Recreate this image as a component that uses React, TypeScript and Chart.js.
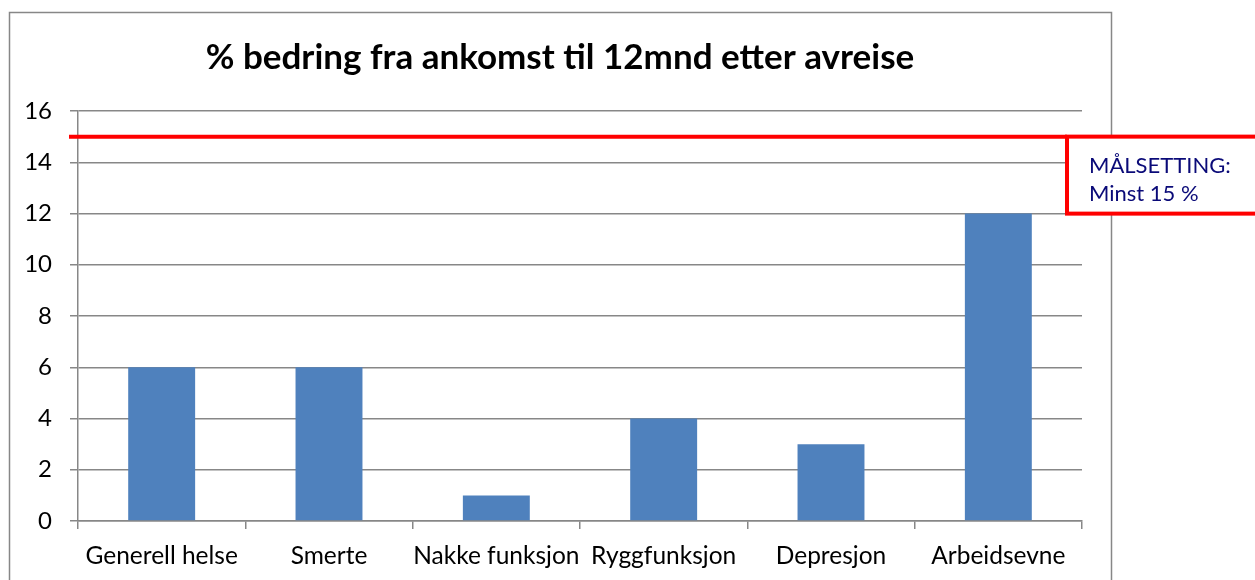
import React, { useEffect, useRef } from "react";
import { Chart, registerables } from "chart.js";

Chart.register(...registerables);

const title = "% bedring fra ankomst til 12mnd etter avreise";
const categories = ["Generell helse", "Smerte", "Nakke funksjon", "Ryggfunksjon", "Depresjon", "Arbeidsevne"];
const values = [6, 6, 1, 4, 3, 12];
const targetValue = 15;
const targetLines = ["MÅLSETTING:", "Minst 15 %"];

const GRID = "#878787";

export default function App() {
  const ref = useRef<HTMLCanvasElement | null>(null);

  useEffect(() => {
    if (!ref.current) return;
    const decor = {
      id: "decor",
      beforeDraw(chart: any) {
        const ctx = chart.ctx;
        ctx.save();
        ctx.fillStyle = "#ffffff";
        ctx.fillRect(0, 0, chart.width, chart.height);
        ctx.strokeStyle = GRID;
        ctx.lineWidth = 1.5;
        ctx.strokeRect(9.5, 12.5, 1102, 600);
        ctx.fillStyle = "#000000";
        ctx.font = "bold 35px Lato";
        ctx.textAlign = "center";
        ctx.textBaseline = "alphabetic";
        ctx.fillText(title, 560, 69);
        ctx.restore();
      },
      afterDraw(chart: any) {
        const ctx = chart.ctx;
        const y = chart.scales.y.getPixelForValue(targetValue);
        ctx.save();
        ctx.strokeStyle = "#ff0000";
        ctx.lineWidth = 4;
        ctx.beginPath();
        ctx.moveTo(69, y);
        ctx.lineTo(1067, y);
        ctx.stroke();
        const bx = 1067, by = y, bw = 200, bh = 77;
        ctx.fillStyle = "#ffffff";
        ctx.fillRect(bx, by, bw, bh);
        ctx.strokeRect(bx, by, bw, bh);
        ctx.fillStyle = "#0a0a78";
        ctx.font = "22px Lato";
        ctx.textAlign = "left";
        ctx.textBaseline = "alphabetic";
        ctx.fillText(targetLines[0], 1089, by + 36);
        ctx.fillText(targetLines[1], 1089, by + 64);
        ctx.restore();
      },
    };
    const chart = new Chart(ref.current, {
      type: "bar",
      data: {
        labels: categories,
        datasets: [
          {
            data: values,
            backgroundColor: "#4F81BD",
            borderWidth: 0,
            barPercentage: 0.8,
            categoryPercentage: 0.5,
          },
        ],
      },
      options: {
        animation: false,
        responsive: false,
        maintainAspectRatio: false,
        layout: { padding: { top: 111, right: 173, bottom: 0, left: 0 } },
        plugins: { legend: { display: false }, title: { display: false }, tooltip: { enabled: false } },
        scales: {
          x: {
            offset: true,
            grid: { display: true, drawOnChartArea: false, drawTicks: true, tickLength: 8, color: GRID, lineWidth: 1.5, offset: true },
            border: { display: true, color: GRID, width: 1.5 },
            ticks: { color: "#000", font: { family: "Lato", size: 24.5 }, padding: 12, maxRotation: 0, autoSkip: false },
            afterFit: (s: any) => { s.height = 59; },
          },
          y: {
            min: 0,
            max: 16,
            grid: { color: GRID, lineWidth: 1.5, tickLength: 8, drawTicks: true },
            border: { display: true, color: GRID, width: 1.5 },
            ticks: { stepSize: 2, color: "#000", font: { family: "Lato", size: 24 }, padding: 18 },
            afterFit: (s: any) => { s.width = 78; },
          },
        },
      },
      plugins: [decor],
    });
    return () => chart.destroy();
  }, []);

  return (
    <div style={{ position: "absolute", left: 0, top: 0, width: 1255, height: 580, overflow: "hidden" }}>
      <canvas ref={ref} width={1255} height={580} style={{ display: "block" }} />
    </div>
  );
}
